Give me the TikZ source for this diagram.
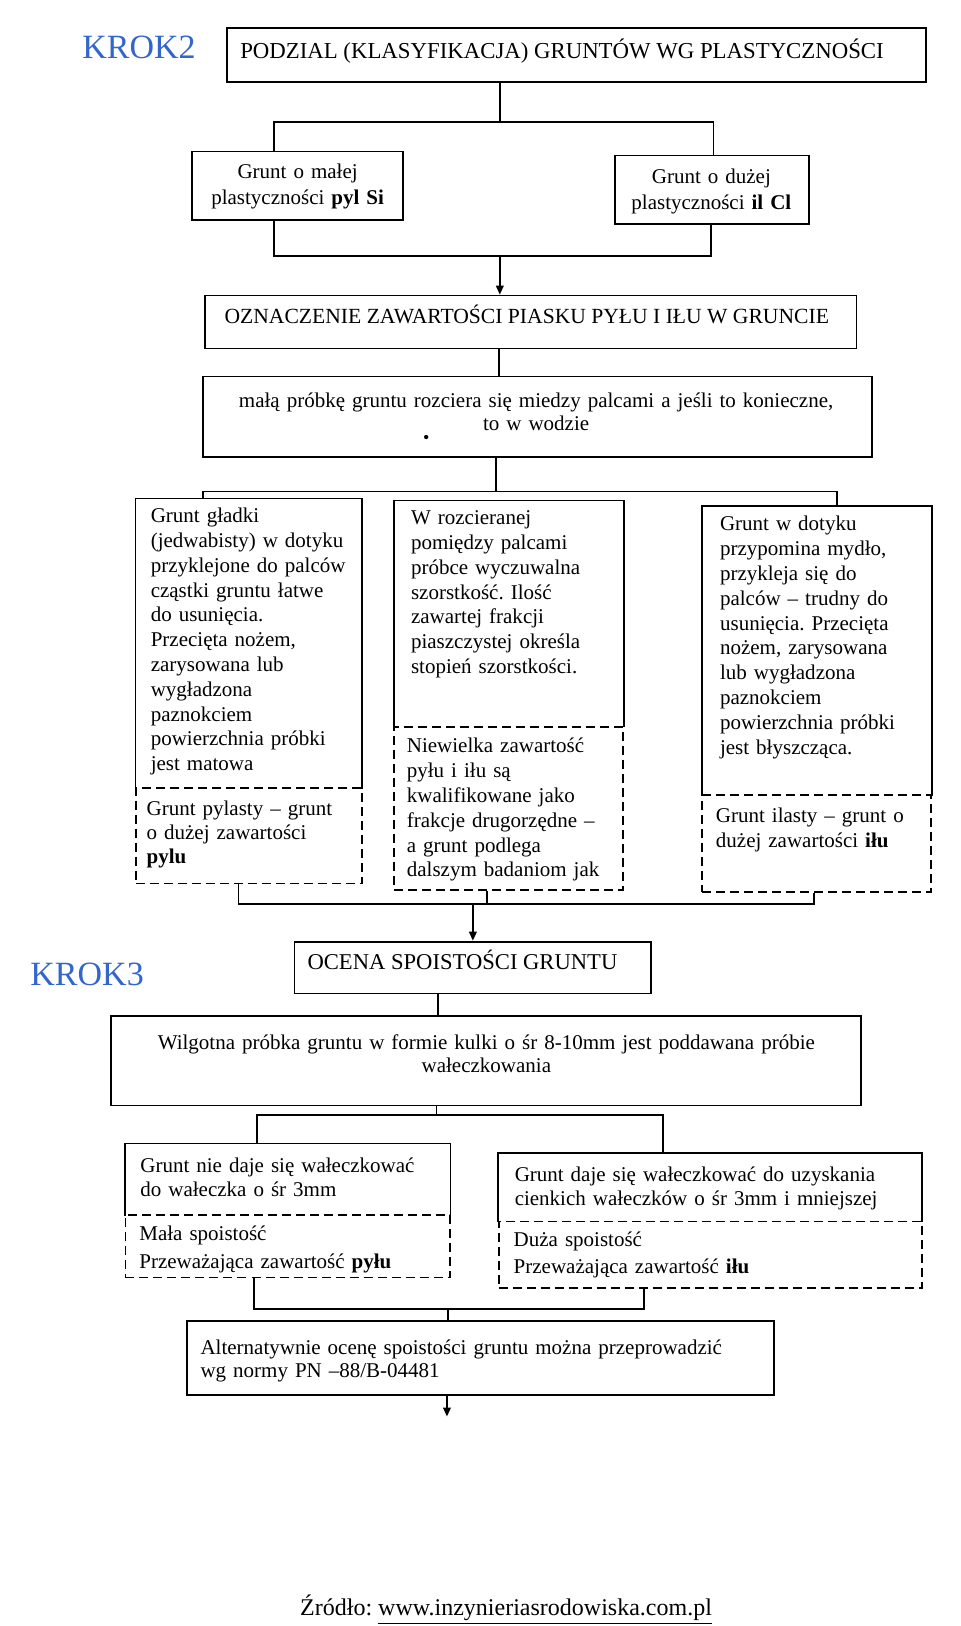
\documentclass[tikz,border=0pt]{standalone}
\usepackage{fontspec}
\setmainfont{Liberation Serif}
\usetikzlibrary{fit,arrows.meta}
\definecolor{krok}{RGB}{51,102,204}
\frenchspacing
\begin{document}
\begin{tikzpicture}[x=0.5184pt,y=-0.5184pt,
  frame/.style={draw, line width=0.9pt, inner sep=0pt},
  dframe/.style={draw, line width=0.9pt, inner sep=0pt, dash pattern=on 4.5pt off 2.5pt},
  hold/.style={inner sep=0pt},
  conn/.style={line width=0.9pt},
  arr/.style={line width=0.9pt, -{Triangle[length=4.5pt,width=3.8pt]}},
  body/.style={font=\fontsize{10.5}{12.4}\selectfont, inner sep=0pt, align=left, text width=200pt, anchor=base west},
  cbody/.style={inner sep=0pt, align=center, anchor=base},
  krokstyle/.style={font=\fontsize{17}{20}\selectfont, text=krok, inner sep=0pt, anchor=base},
  title/.style={inner sep=0pt, anchor=base}
]
\useasboundingbox (0,0) rectangle (926,1568);

% ---------- KROK 2 ----------
\node[krokstyle] (krok2) at (134,56) {KROK2};

\node[frame, fit={(219,27)(893,79)}] (b1) {};
\node[title, font=\fontsize{11.4}{13}\selectfont] (b1t) at (542,56) {PODZIAL (KLASYFIKACJA) GRUNTÓW WG PLASTYCZNOŚCI};

\node[frame, fit={(185,146)(389,212)}] (b2L) {};
\node[cbody, text width=150pt, font=\fontsize{10.5}{13}\selectfont] (b2Lt) at (287,172) {Grunt o małej\\plastyczności \textbf{pyl Si}};
\node[frame, fit={(593,150)(780,216)}] (b2R) {};
\node[cbody, text width=150pt, font=\fontsize{10.5}{13}\selectfont] (b2Rt) at (686,177) {Grunt o dużej\\plastyczności \textbf{il Cl}};

\node[frame, fit={(198,285)(826,336)}] (b3) {};
\node[title, font=\fontsize{10.8}{13}\selectfont] (b3t) at (508,312) {OZNACZENIE ZAWARTOŚCI PIASKU PYŁU I IŁU W GRUNCIE};

\node[frame, fit={(196,363)(841,441)}] (b4) {};
\node[cbody, text width=330pt, font=\fontsize{10.5}{11.4}\selectfont] (b4t) at (517,393) {małą próbkę gruntu rozciera się miedzy palcami a jeśli to konieczne,\\to w wodzie};
\node[inner sep=0pt, font=\fontsize{9}{10}\selectfont] (dot) at (411,424) {•};

% three columns
\node[hold, fit={(131,481)(349,760)}] (c1t) {};
\draw[conn] (c1t.south west) -- (c1t.north west) -- (c1t.north east) -- (c1t.south east);
\node[body] (c1tt) at (145,504) {Grunt gładki\\(jedwabisty) w dotyku\\przyklejone do palców\\cząstki gruntu łatwe\\do usunięcia.\\Przecięta nożem,\\zarysowana lub\\wygładzona\\paznokciem\\powierzchnia próbki\\jest matowa};
\node[dframe, fit={(131,760)(349,852)}] (c1b) {};
\node[body, font=\fontsize{10.5}{12.2}\selectfont] (c1bt) at (141,786) {Grunt pylasty – grunt\\o dużej zawartości\\\textbf{pylu}};

\node[hold, fit={(380,483)(601,701)}] (c2t) {};
\draw[conn] (c2t.south west) -- (c2t.north west) -- (c2t.north east) -- (c2t.south east);
\node[body] (c2tt) at (396,506) {W rozcieranej\\pomiędzy palcami\\próbce wyczuwalna\\szorstkość. Ilość\\zawartej frakcji\\piaszczystej określa\\stopień szorstkości.};
\node[dframe, fit={(380,701)(601,858)}] (c2b) {};
\node[body] (c2bt) at (392,726) {Niewielka zawartość\\pyłu i iłu są\\kwalifikowane jako\\frakcje drugorzędne –\\a grunt podlega\\dalszym badaniom jak};

\node[hold, fit={(677,488)(898,767)}] (c3t) {};
\draw[conn] (c3t.south west) -- (c3t.north west) -- (c3t.north east) -- (c3t.south east);
\node[body] (c3tt) at (694,512) {Grunt w dotyku\\przypomina mydło,\\przykleja się do\\palców – trudny do\\usunięcia. Przecięta\\nożem, zarysowana\\lub wygładzona\\paznokciem\\powierzchnia próbki\\jest błyszcząca.};
\node[dframe, fit={(677,767)(898,860)}] (c3b) {};
\node[body] (c3bt) at (690,793) {Grunt ilasty – grunt o\\dużej zawartości \textbf{iłu}};

% ---------- KROK 3 ----------
\node[krokstyle] (krok3) at (84,950) {KROK3};

\node[frame, fit={(284,908)(628,958)}] (b5) {};
\node[title, font=\fontsize{11.3}{13}\selectfont] (b5t) at (446,935) {OCENA SPOISTOŚCI GRUNTU};

\node[frame, fit={(107,980)(830,1066)}] (b6) {};
\node[cbody, text width=360pt, font=\fontsize{10.5}{11.4}\selectfont] (b6t) at (469,1012) {Wilgotna próbka gruntu w formie kulki o śr 8-10mm jest poddawana próbie\\wałeczkowania};

\node[hold, fit={(121,1103)(434,1172)}] (b7Lt) {};
\draw[conn] (b7Lt.south west) -- (b7Lt.north west) -- (b7Lt.north east) -- (b7Lt.south east);
\node[body, font=\fontsize{10.5}{11.9}\selectfont] (b7Ltt) at (135,1131) {Grunt nie daje się wałeczkować\\do wałeczka o śr 3mm};
\node[dframe, fit={(121,1172)(434,1232)}] (b7Lb) {};
\node[body, font=\fontsize{10.5}{14}\selectfont] (b7Lbt) at (134,1196) {Mała spoistość\\Przeważająca zawartość \textbf{pyłu}};

\node[hold, fit={(481,1112)(889,1178)}] (b7Rt) {};
\draw[conn] (b7Rt.south west) -- (b7Rt.north west) -- (b7Rt.north east) -- (b7Rt.south east);
\node[body, font=\fontsize{10.5}{12.4}\selectfont] (b7Rtt) at (496,1139) {Grunt daje się wałeczkować do uzyskania\\cienkich wałeczków o śr 3mm i mniejszej};
\node[dframe, fit={(481,1178)(889,1242)}] (b7Rb) {};
\node[body, font=\fontsize{10.5}{13.5}\selectfont] (b7Rbt) at (495,1202) {Duża spoistość\\Przeważająca zawartość \textbf{iłu}};

\node[frame, fit={(180,1274)(746,1345)}] (b8) {};
\node[body, text width=320pt, font=\fontsize{10.5}{11.4}\selectfont] (b8t) at (193,1306) {Alternatywnie ocenę spoistości gruntu można przeprowadzić\\wg normy PN –88/B-04481};

\node[title, font=\fontsize{12}{14}\selectfont] (src) at (488,1558) {Źródło: \underline{www.inzynieriasrodowiska.com.pl}};

% ---------- connector coordinates ----------
\coordinate (j1) at (482,118);
\coordinate (k1) at (264,118);
\coordinate (k2) at (688,118);
\coordinate (k3) at (264,247);
\coordinate (k4) at (686,247);
\coordinate (j2) at (482,247);
\coordinate (j3) at (481,0);
\coordinate (j4) at (478,474);
\coordinate (k5) at (196,474);
\coordinate (k6) at (807,474);
\coordinate (k7) at (230,872);
\coordinate (j5) at (470,872);
\coordinate (k8) at (785,872);
\coordinate (j6) at (456,872);
\coordinate (j7) at (422,0);
\coordinate (j8) at (421,1075);
\coordinate (k9) at (248,1075);
\coordinate (k10) at (639,1075);
\coordinate (k11) at (245,1262);
\coordinate (k12) at (621,1262);
\coordinate (j9) at (432,1262);
\coordinate (j10) at (431,1366);

% ---------- connectors ----------
\draw[conn] (b1.south -| j1) -- (j1);
\draw[conn] (b2L.north -| k1) -- (k1) -- (k2) -- (b2R.north -| k2);
\draw[conn] (b2L.south -| k3) -- (k3) -- (k4) -- (b2R.south -| k4);
\draw[arr] (j2) -- (b3.north -| j2);
\draw[conn] (b3.south -| j3) -- (b4.north -| j3);
\draw[conn] (b4.south -| j4) -- (j4);
\draw[conn] (c1t.north -| k5) -- (k5) -- (k6) -- (c3t.north -| k6);
\draw[conn] (c1b.south -| k7) -- (k7) -- (k8) -- (c3b.south -| k8);
\draw[conn] (c2b.south -| j5) -- (j5);
\draw[arr] (j6) -- (b5.north -| j6);
\draw[conn] (b5.south -| j7) -- (b6.north -| j7);
\draw[conn] (b6.south -| j8) -- (j8);
\draw[conn] (b7Lt.north -| k9) -- (k9) -- (k10) -- (b7Rt.north -| k10);
\draw[conn] (b7Lb.south -| k11) -- (k11) -- (k12) -- (b7Rb.south -| k12);
\draw[conn] (j9) -- (b8.north -| j9);
\draw[arr] (b8.south -| j10) -- (j10);
\end{tikzpicture}
\end{document}
